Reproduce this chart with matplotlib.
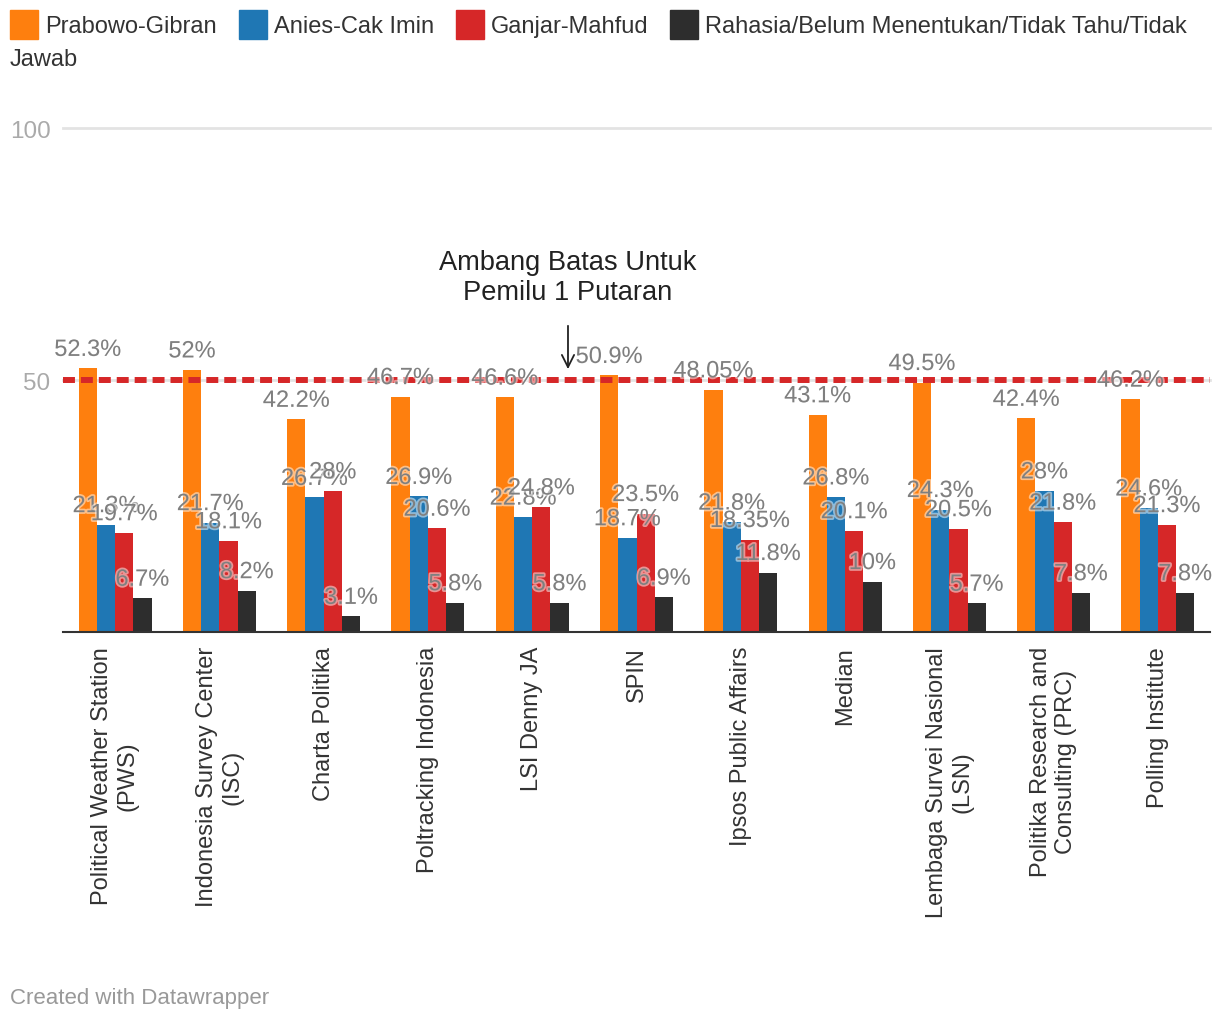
import matplotlib
matplotlib.use('Agg')
import matplotlib.pyplot as plt
from matplotlib.patches import Rectangle
import matplotlib.patheffects as pe
import numpy as np

plt.rcParams['font.family'] = ['Liberation Sans', 'DejaVu Sans']

# data hasil survei
lembaga = ['Political Weather Station\n(PWS)', 'Indonesia Survey Center\n(ISC)', 'Charta Politika',
           'Poltracking Indonesia', 'LSI Denny JA', 'SPIN', 'Ipsos Public Affairs', 'Median',
           'Lembaga Survei Nasional\n(LSN)', 'Politika Research and\nConsulting (PRC)', 'Polling Institute']
prabowo = [52.3, 52, 42.2, 46.7, 46.6, 50.9, 48.05, 43.1, 49.5, 42.4, 46.2]
anies = [21.3, 21.7, 26.7, 26.9, 22.8, 18.7, 21.8, 26.8, 24.3, 28, 24.6]
ganjar = [19.7, 18.1, 28, 20.6, 24.8, 23.5, 18.35, 20.1, 20.5, 21.8, 21.3]
rahasia = [6.7, 8.2, 3.1, 5.8, 5.8, 6.9, 11.8, 10, 5.7, 7.8, 7.8]
seri = ['Prabowo-Gibran', 'Anies-Cak Imin', 'Ganjar-Mahfud',
        'Rahasia/Belum Menentukan/Tidak Tahu/Tidak Jawab']
warna = ['#fe7f0e', '#1f77b4', '#d62728', '#2d2d2d']
ambang = 50

W, H = 1220, 1020
fig = plt.figure(figsize=(W / 100, H / 100), dpi=100)
ax = fig.add_axes([63 / W, 1 - 633 / H, (1210 - 63) / W, (633 - 129) / H])

x = np.arange(len(lembaga))
lebar = 0.175
semua = [prabowo, anies, ganjar, rahasia]
for i, nilai in enumerate(semua):
    pos = x + (i - 1.5) * lebar
    ax.bar(pos, nilai, width=lebar, color=warna[i], zorder=2)

# label nilai di atas batang
for i, nilai in enumerate(semua):
    pos = x + (i - 1.5) * lebar
    for xi, v in zip(pos, nilai):
        ax.annotate(f'{v:g}%', (xi, v), xytext=(0, 9), textcoords='offset points',
                    ha='center', va='baseline', fontsize=17, color='#7f7f7f', zorder=6,
                    annotation_clip=False,
                    path_effects=[pe.withStroke(linewidth=2.5, foreground='white', alpha=0.5)])

# garis grid dan garis ambang batas
for g in [50, 100]:
    ax.axhline(g, color='#e3e3e3', lw=2, zorder=1, clip_on=False)
ax.axhline(ambang, color='#d62728', lw=4.3, dashes=(2, 1), zorder=4)

ax.set_xlim(-0.5, len(lembaga) - 0.5)
ax.set_ylim(0, 100)
for s in ['top', 'right', 'left']:
    ax.spines[s].set_visible(False)
ax.spines['bottom'].set_color('#333333')
ax.spines['bottom'].set_linewidth(1.5)
ax.spines['bottom'].set_zorder(5)

ax.set_yticks([50, 100])
ax.set_yticklabels(['50', '100'], fontsize=17.5, color='#aaaaaa')
ax.tick_params(axis='y', length=0, pad=9)
ax.set_xticks(x)
ax.set_xticklabels(lembaga, rotation=90, fontsize=17, color='#333333',
                   ha='center', va='top', multialignment='center')
ax.tick_params(axis='x', length=0, pad=10)

# anotasi ambang batas
xa = 4.343
ax.annotate('', xy=(xa, 51.6), xytext=(xa, 61.3),
            arrowprops=dict(arrowstyle='->', color='#222222', lw=1.3,
                            mutation_scale=22))
ax.text(xa, 70.4, 'Ambang Batas Untuk\nPemilu 1 Putaran', ha='center', va='center',
        fontsize=19.6, color='#222222')

# legenda manual (dibungkus ke baris kedua)
fig.canvas.draw()
renderer = fig.canvas.get_renderer()
px = 10
for i, nama in enumerate(seri):
    fig.add_artist(Rectangle((px / W, 1 - 40 / H), 28 / W, 29 / H, color=warna[i],
                             transform=fig.transFigure))
    teks = nama
    sisa = None
    if i == len(seri) - 1:
        teks, sisa = nama.rsplit(' ', 1)
    t = fig.text((px + 35) / W, 1 - 33 / H, teks, fontsize=17, color='#333333', va='baseline')
    bb = t.get_window_extent(renderer)
    px = bb.x1 + 22
    if sisa:
        fig.text(10 / W, 1 - 66 / H, sisa, fontsize=17, color='#333333', va='baseline')

fig.text(10 / W, 1 - 1004 / H, 'Created with Datawrapper', fontsize=16, color='#999999',
         va='baseline')

fig.savefig('out.png', dpi=100)
